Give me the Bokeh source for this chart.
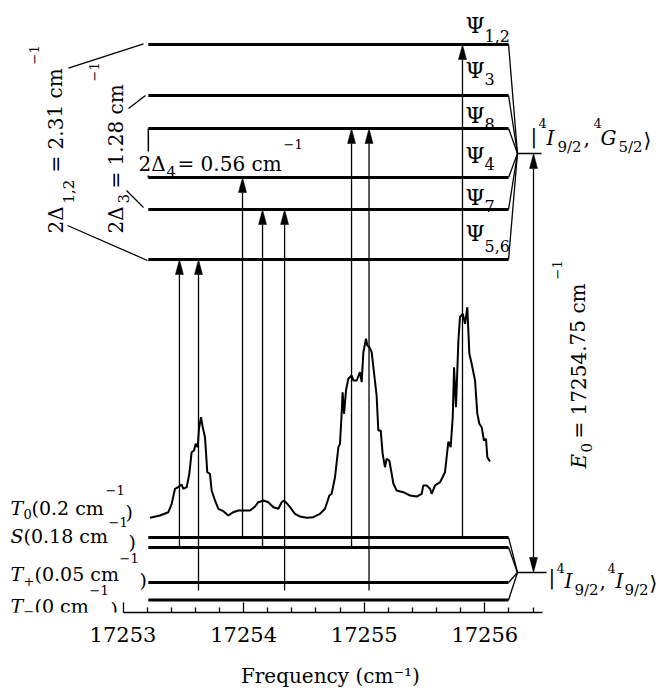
import math
from bokeh.plotting import figure
from bokeh.models import ColumnDataSource, FixedTicker, Label, Range1d
from bokeh.core.properties import value
from bokeh.embed import file_html
from bokeh.resources import INLINE

FONT = "DejaVu Serif"

# ---------------- data ----------------
tick_values = [17253, 17254, 17255, 17256]
minor_tick_values = [17253.2, 17253.4, 17253.6, 17253.8,
                     17254.2, 17254.4, 17254.6, 17254.8,
                     17255.2, 17255.4, 17255.6, 17255.8,
                     17256.2, 17256.4]
axis_bounds = (17253.0, 17256.48)
x_label = "Frequency  (cm\u207b\u00b9)"

# schematic level heights (diagram units)
upper_names = ["Psi12", "Psi3", "Psi8", "Psi4", "Psi7", "Psi56"]
upper_heights = [569, 518, 485, 436, 404, 354]
upper_center = 460
lower_names = ["T0", "S", "Tp", "Tm"]
lower_heights = [76, 66, 31, 13.5]
lower_center = 41

level_start = 17253.21
level_end = 17256.197
level_join = 17256.271
stub_end_upper = 17256.47
stub_end_lower = 17256.512
e0_freq = 17256.404

# transitions
arrow_freq = [17253.468, 17253.626, 17253.991, 17254.157, 17254.340,
              17254.895, 17255.040, 17255.815]
arrow_from = ["S", "Tp", "T0", "S", "Tp", "S", "Tp", "T0"]
arrow_to = ["Psi56", "Psi56", "Psi4", "Psi7", "Psi7", "Psi8", "Psi8", "Psi12"]

# measured spectrum
spec_freq = [17253.224, 17253.307, 17253.376, 17253.404, 17253.431, 17253.467, 17253.486, 17253.500,
             17253.528, 17253.550, 17253.569, 17253.589, 17253.603, 17253.619, 17253.630, 17253.647,
             17253.661, 17253.680, 17253.699, 17253.721, 17253.735, 17253.763, 17253.791, 17253.832,
             17253.873, 17253.915, 17253.956, 17253.998, 17254.053, 17254.095, 17254.122, 17254.164,
             17254.205, 17254.247, 17254.288, 17254.316, 17254.335, 17254.357, 17254.385, 17254.426,
             17254.468, 17254.523, 17254.578, 17254.634, 17254.675, 17254.711, 17254.730, 17254.758,
             17254.786, 17254.799, 17254.813, 17254.821, 17254.833, 17254.849, 17254.868, 17254.896,
             17254.910, 17254.938, 17254.965, 17254.979, 17254.993, 17255.015, 17255.026, 17255.043,
             17255.062, 17255.076, 17255.103, 17255.117, 17255.137, 17255.153, 17255.172, 17255.186,
             17255.208, 17255.228, 17255.242, 17255.269, 17255.324, 17255.380, 17255.435, 17255.477,
             17255.490, 17255.518, 17255.546, 17255.559, 17255.587, 17255.629, 17255.670, 17255.698,
             17255.717, 17255.734, 17255.745, 17255.761, 17255.781, 17255.794, 17255.817, 17255.836,
             17255.855, 17255.872, 17255.891, 17255.919, 17255.938, 17255.955, 17255.974, 17255.993,
             17256.010, 17256.021, 17256.043]
spec_signal = [95.7, 98, 101.3, 109.7, 124.7, 127, 129, 124.7, 126.3, 139.7, 161.3, 163, 169.7, 166.3,
               184.7, 196.3, 186.3, 176.3, 141.3, 139.7, 123, 113, 104.7, 102.3, 98, 101.3, 103, 103,
               103, 107, 111.3, 113, 111.3, 106.3, 104.7, 111.3, 113, 110.3, 106.3, 99.7, 97, 95.7,
               96.3, 99.7, 104.7, 118, 119.7, 136.3, 166.3, 169.7, 199.7, 221.3, 199.7, 223, 234.7,
               238, 233, 233, 241.3, 231.3, 261.3, 274.7, 268, 266.3, 261.3, 246.3, 218, 183, 183,
               159.7, 146.3, 154.7, 153, 139.7, 129.7, 123, 121.3, 118, 117, 119.7, 128, 128, 124.7,
               119.7, 128, 131.3, 141.3, 172, 166.3, 196.3, 246.3, 206.3, 273, 296.3, 299.7, 289.7,
               306.3, 259.7, 249.7, 233, 199.7, 189.7, 186.3, 173, 174.7, 156.3, 152]

# ---------------- layout helpers (page pixel -> data) ----------------
PAGE_X0 = 122.5
PX_PER_CM = 120.6


def fx(X):
    return 17253 + (X - PAGE_X0) / PX_PER_CM


def fy(Y):
    return 613 - Y


p = figure(width=666, height=694,
           x_range=Range1d(fx(0), fx(666)), y_range=Range1d(fy(612), fy(0)),
           output_backend="svg", toolbar_location=None,
           y_axis_location=None, x_axis_location="below",
           min_border_left=0, min_border_right=0, min_border_top=0, min_border_bottom=82)
p.outline_line_color = None
p.grid.visible = False
p.background_fill_color = "white"

ax = p.xaxis[0]
ax.ticker = FixedTicker(ticks=tick_values, minor_ticks=minor_tick_values)
ax.bounds = axis_bounds
ax.axis_label = x_label
ax.axis_label_text_font = FONT
ax.axis_label_text_font_size = "20px"
ax.axis_label_text_font_style = "normal"
ax.axis_label_text_color = "black"
ax.axis_label_standoff = 19
ax.major_label_text_font = FONT
ax.major_label_text_font_size = "21px"
ax.major_label_text_color = "black"
ax.major_label_standoff = 14
ax.axis_line_color = "black"
ax.axis_line_width = 1.5
ax.major_tick_line_color = "black"
ax.minor_tick_line_color = "black"
ax.major_tick_line_width = 1.3
ax.minor_tick_line_width = 1.3
ax.major_tick_in = 10
ax.major_tick_out = 0
ax.minor_tick_in = 5
ax.minor_tick_out = 0

H = dict(zip(upper_names + lower_names, upper_heights + lower_heights))

# level lines
all_h = upper_heights + lower_heights
p.segment(x0=[level_start] * len(all_h), x1=[level_end] * len(all_h), y0=all_h, y1=all_h,
          line_color="black", line_width=3)
# joins to centres
centers = [upper_center] * len(upper_heights) + [lower_center] * len(lower_heights)
p.segment(x0=[level_end] * len(all_h), x1=[level_join] * len(all_h), y0=all_h, y1=centers,
          line_color="black", line_width=1.3)
p.segment(x0=[level_join, level_join], x1=[stub_end_upper, stub_end_lower],
          y0=[upper_center, lower_center], y1=[upper_center, lower_center],
          line_color="black", line_width=1.3)
# box edge between Psi8 and Psi4
p.segment(x0=[level_start], x1=[level_start], y0=[H["Psi8"]], y1=[H["Psi4"]],
          line_color="black", line_width=1.5)

# spectrum
p.line(spec_freq, spec_signal, line_color="black", line_width=2)

# arrows (lines leaving T+ run a little past the level, as drawn in the figure)
HEAD = 15
HW = 4 / PX_PER_CM
TAIL = 8
y0s = [H[a] - (TAIL if a == "Tp" else 0) for a in arrow_from]
y1s = [H[b] for b in arrow_to]
p.segment(x0=arrow_freq, x1=arrow_freq, y0=y0s, y1=[y - HEAD for y in y1s],
          line_color="black", line_width=1.3)
head_xs = [[f - HW, f, f + HW] for f in arrow_freq]
head_ys = [[y - HEAD, y, y - HEAD] for y in y1s]
# E0 double arrow
p.segment(x0=[e0_freq], x1=[e0_freq], y0=[lower_center + HEAD], y1=[upper_center - HEAD],
          line_color="black", line_width=1.3)
head_xs += [[e0_freq - HW, e0_freq, e0_freq + HW]] * 2
head_ys += [[upper_center - HEAD, upper_center, upper_center - HEAD],
            [lower_center + HEAD, lower_center, lower_center + HEAD]]
p.patches(head_xs, head_ys, fill_color="black", line_color="black", line_width=0.5)

# splitting connectors (page positions of label-side ends)
connectors = [((143, 43.3), (68, 67.7)), ((147, 260), (67, 225)),
              ((145, 95), (128, 108)), ((143, 207), (126, 190))]
p.segment(x0=[fx(a[0]) for a, b in connectors], y0=[fy(a[1]) for a, b in connectors],
          x1=[fx(b[0]) for a, b in connectors], y1=[fy(b[1]) for a, b in connectors],
          line_color="black", line_width=1.3)

# ---------------- texts ----------------
M, L, SB, SS, SP = "20px", "19px", "15px", "13px", "13px"
PS, PSB = "22px", "16px"
R = math.pi / 2
pieces = [
    # Psi labels
    ("\u03a8", 465, 25, PS, "normal", 0), ("1,2", 484, 35, PSB, "normal", 0),
    ("\u03a8", 465, 70, PS, "normal", 0), ("3", 484, 78, PSB, "normal", 0),
    ("\u03a8", 465, 115, PS, "normal", 0), ("8", 484, 123, PSB, "normal", 0),
    ("\u03a8", 465, 155, PS, "normal", 0), ("4", 484, 163, PSB, "normal", 0),
    ("\u03a8", 465, 197, PS, "normal", 0), ("7", 484, 205, PSB, "normal", 0),
    ("\u03a8", 465, 233, PS, "normal", 0), ("5,6", 484, 245, PSB, "normal", 0),
    # lower-left labels
    ("T", 10, 507, L, "italic", 0), ("0", 23, 513, SS, "normal", 0), ("(0.2 cm", 31, 507, L, "normal", 0),
    ("\u22121", 105, 489, SP, "normal", 0), (")", 125, 511, L, "normal", 0),
    ("S", 10, 535, L, "italic", 0), ("(0.18 cm", 23, 535, L, "normal", 0),
    ("\u22121", 108, 521, SP, "normal", 0), (")", 128, 541, L, "normal", 0),
    ("T", 10, 573, L, "italic", 0), ("+", 23, 580, SS, "normal", 0), ("(0.05 cm", 34, 573, L, "normal", 0),
    ("\u22121", 119, 557, SP, "normal", 0), (")", 139, 579, L, "normal", 0),
    ("T", 10, 605, L, "italic", 0), ("\u2212", 23, 610, SS, "normal", 0), ("(0 cm", 34, 605, L, "normal", 0),
    ("\u22121", 89, 589, SP, "normal", 0), (")", 110, 608, L, "normal", 0),
    # rotated splitting labels
    ("2\u0394", 55, 233, M, "normal", R), ("1,2", 68, 203, SB, "normal", R),
    ("= 2.31 cm", 55, 172, M, "normal", R), ("\u22121", 33, 64, SP, "normal", R),
    ("2\u0394", 115, 233, M, "normal", R), ("3", 123, 203, SB, "normal", R),
    ("= 1.28 cm", 115, 188, M, "normal", R), ("\u22121", 93, 81, SP, "normal", R),
    # E0
    ("E", 578, 468, M, "italic", R), ("0", 586, 452, SB, "normal", R),
    ("= 17254.75 cm", 578, 438, M, "normal", R), ("\u22121", 556, 279, SP, "normal", R),
    # 2Delta4
    ("4", 166, 171, SB, "normal", 0), ("= 0.56 cm", 177, 163, M, "normal", 0),
    ("\u22121", 283, 143, SP, "normal", 0),
    # upper ket
    ("|", 530, 135, M, "normal", 0), ("4", 538, 122, SP, "normal", 0), ("I", 546, 137, M, "italic", 0),
    ("9/2", 557, 146, SB, "normal", 0), (",", 583, 137, M, "normal", 0), ("4", 593, 122, SP, "normal", 0),
    ("G", 600, 137, M, "italic", 0), ("5/2", 618, 146, SB, "normal", 0), ("\u27e9", 643, 139, M, "normal", 0),
    # lower ket
    ("|", 548, 576, M, "normal", 0), ("4", 556, 567, SP, "normal", 0), ("I", 564, 580, M, "italic", 0),
    ("9/2", 574, 589, SB, "normal", 0), (",", 599, 580, M, "normal", 0), ("4", 607, 567, SP, "normal", 0),
    ("I", 615, 580, M, "italic", 0), ("9/2", 624, 589, SB, "normal", 0), ("\u27e9", 649, 582, M, "normal", 0),
]
tsrc = ColumnDataSource(dict(
    x=[fx(t[1]) for t in pieces], y=[fy(t[2]) for t in pieces], text=[t[0] for t in pieces],
    size=[t[3] for t in pieces], style=[t[4] for t in pieces], angle=[t[5] for t in pieces]))
p.text(x="x", y="y", text="text", source=tsrc, text_font=value(FONT), text_font_size="size",
       text_font_style="style", angle="angle", text_color="black",
       text_align="left", text_baseline="alphabetic")

p.add_layout(Label(x=fx(138), y=fy(163), text="2\u0394", text_font=FONT, text_font_size=M,
                   text_color="black", text_baseline="alphabetic", text_align="left",
                   background_fill_color="white"))

open("out.html", "w").write(file_html(p, INLINE))
